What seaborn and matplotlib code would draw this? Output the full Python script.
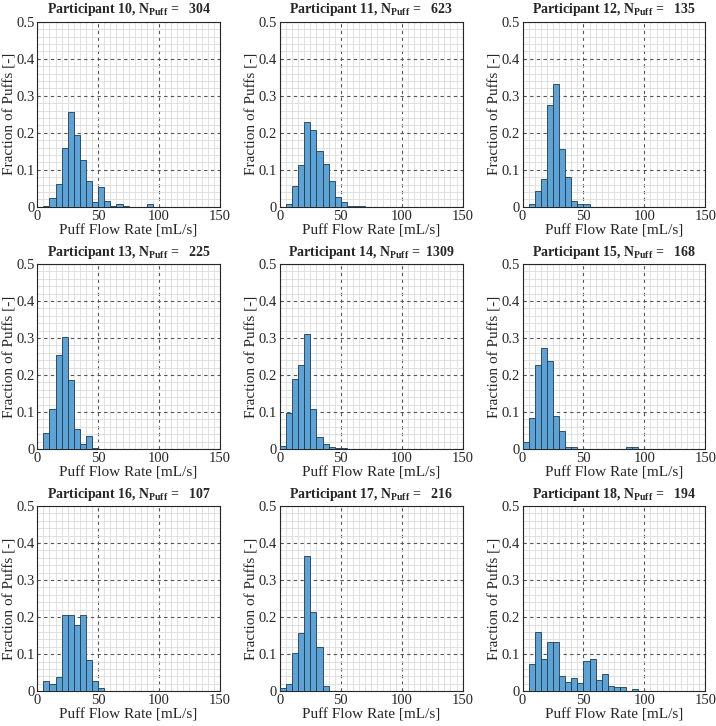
import numpy as np
import pandas as pd
import matplotlib
matplotlib.use("Agg")
import matplotlib.pyplot as plt
import seaborn as sns
from matplotlib.ticker import MultipleLocator

# bins are 5 mL/s wide from 0 to 150 ; values are fraction of puffs per bin (bins with data only)
participants = [10, 11, 12, 13, 14, 15, 16, 17, 18]
n_puff = [304, 623, 135, 225, 1309, 168, 107, 216, 194]

p10 = {5: 0.003, 10: 0.023, 15: 0.063, 20: 0.160, 25: 0.257, 30: 0.194, 35: 0.128,
       40: 0.070, 45: 0.013, 50: 0.053, 55: 0.016, 60: 0.003, 65: 0.007, 70: 0.003, 90: 0.007}
p11 = {5: 0.007, 10: 0.057, 15: 0.113, 20: 0.228, 25: 0.207, 30: 0.151, 35: 0.116,
       40: 0.070, 45: 0.026, 50: 0.014, 55: 0.002, 60: 0.003, 65: 0.002}
p12 = {5: 0.007, 10: 0.044, 15: 0.074, 20: 0.274, 25: 0.333, 30: 0.156, 35: 0.081,
       40: 0.015, 45: 0.007, 50: 0.007}
p13 = {5: 0.044, 10: 0.107, 15: 0.253, 20: 0.302, 25: 0.187, 30: 0.053, 35: 0.013,
       40: 0.036, 45: 0.004}
p14 = {0: 0.008, 5: 0.096, 10: 0.188, 15: 0.228, 20: 0.311, 25: 0.109, 30: 0.032,
       35: 0.013, 40: 0.006, 45: 0.002, 50: 0.004, 55: 0.001, 60: 0.001}
p15 = {0: 0.018, 5: 0.083, 10: 0.226, 15: 0.274, 20: 0.238, 25: 0.089, 30: 0.048,
       35: 0.006, 40: 0.006, 85: 0.006, 90: 0.006}
p16 = {5: 0.028, 10: 0.019, 15: 0.037, 20: 0.206, 25: 0.206, 30: 0.178, 35: 0.206,
       40: 0.084, 45: 0.028, 50: 0.009}
p17 = {0: 0.009, 5: 0.019, 10: 0.102, 15: 0.157, 20: 0.366, 25: 0.213, 30: 0.120,
       35: 0.014}
p18 = {5: 0.072, 10: 0.160, 15: 0.088, 20: 0.134, 25: 0.134, 30: 0.041, 35: 0.026,
       40: 0.036, 45: 0.021, 50: 0.082, 55: 0.088, 60: 0.031, 65: 0.046, 70: 0.015,
       75: 0.010, 80: 0.010, 90: 0.005}

fractions = [p10, p11, p12, p13, p14, p15, p16, p17, p18]

sns.set_style("white")
plt.rcParams['font.family'] = ['Liberation Serif', 'DejaVu Serif']
plt.rcParams['mathtext.fontset'] = 'custom'
plt.rcParams['mathtext.rm'] = 'Liberation Serif'
plt.rcParams['mathtext.bf'] = 'Liberation Serif:bold'
plt.rcParams['mathtext.it'] = 'Liberation Serif:italic'

fig, axes = plt.subplots(3, 3, figsize=(7.16, 7.26), dpi=100)
fig.subplots_adjust(left=0.052, right=0.985, bottom=0.048, top=0.97,
                    wspace=0.328, hspace=0.308)

bar_color = '#5ea3d5'

for ax, pid, n, frac in zip(axes.flat, participants, n_puff, fractions):
    df = pd.DataFrame({'left': list(frac.keys()), 'frac': list(frac.values())})
    df['center'] = df['left'] + 2.5
    sns.histplot(data=df, x='center', weights='frac', binwidth=5, binrange=(0, 150),
                 ax=ax, color=bar_color, alpha=1, edgecolor='#1f3b52', linewidth=0.6,
                 zorder=3)
    ax.set_xlim(0, 150)
    ax.set_ylim(0, 0.5)
    ax.set_xticks([0, 50, 100, 150])
    ax.set_yticks([0, 0.1, 0.2, 0.3, 0.4, 0.5])
    ax.set_yticklabels(['0', '0.1', '0.2', '0.3', '0.4', '0.5'])
    ax.xaxis.set_minor_locator(MultipleLocator(5))
    ax.yaxis.set_minor_locator(MultipleLocator(0.02))
    ax.grid(which='minor', color='#dcdcdc', linewidth=0.6, linestyle='-', zorder=0)
    ax.grid(which='major', color='#555555', linewidth=0.8, linestyle=(0, (3, 3)), zorder=1)
    ax.set_axisbelow(True)
    ax.tick_params(which='both', length=0, labelsize=10.5, colors='#262626', pad=2)
    for s in ax.spines.values():
        s.set_color('#262626')
        s.set_linewidth(0.8)
    ax.set_xlabel('Puff Flow Rate [mL/s]', fontsize=11, color='#262626', labelpad=1)
    ax.set_ylabel('Fraction of Puffs [-]', fontsize=11, color='#262626', labelpad=0)
    ax.set_title(r'Participant %d, $\mathbf{N_{Puff}}$ = %5d' % (pid, n),
                 fontsize=10, fontweight='bold', pad=6)

fig.savefig('out.png', dpi=100)
